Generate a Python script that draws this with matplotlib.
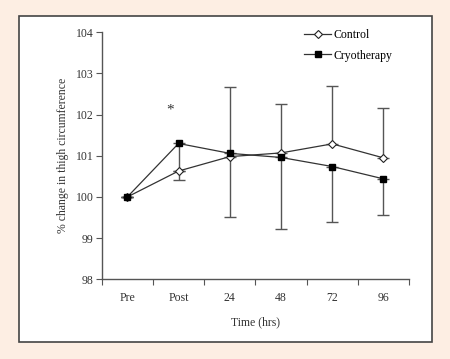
import numpy as np
import matplotlib
matplotlib.use("Agg")
import matplotlib.pyplot as plt
from matplotlib.patches import Rectangle

# datos
categorias = ["Pre", "Post", "24", "48", "72", "96"]
control = [100.0, 100.63, 100.98, 101.07, 101.29, 100.95]
control_err_sup = [0.0, 0.0, 1.68, 1.18, 1.40, 1.20]
crio = [100.0, 101.30, 101.06, 100.96, 100.74, 100.44]
crio_err_inf = [0.0, 0.89, 1.54, 1.73, 1.36, 0.89]

plt.rcParams["font.family"] = ["Liberation Serif", "DejaVu Serif"]

fig = plt.figure(figsize=(4.5, 3.59), dpi=100)
fig.patch.set_facecolor("#fdeee3")

# recuadro blanco con borde (debajo de los ejes)
fig.patches.append(Rectangle((0.042, 0.047), 0.918, 0.908, transform=fig.transFigure,
                             facecolor="white", edgecolor="#444444", linewidth=1.2, zorder=-10))

ax = fig.add_axes([0.226, 0.222, 0.683, 0.688])
ax.set_facecolor("none")

x = np.arange(len(categorias))
gris = "#555555"

ax.errorbar(x, control, yerr=[np.zeros(len(x)), control_err_sup], fmt="none",
            ecolor=gris, elinewidth=1.0, capsize=4, capthick=1.0, zorder=2)
ax.errorbar(x, crio, yerr=[crio_err_inf, np.zeros(len(x))], fmt="none",
            ecolor=gris, elinewidth=1.0, capsize=4, capthick=1.0, zorder=2)

ax.plot(x, control, color="#333333", linewidth=0.9, marker="D", markersize=4.5,
        markerfacecolor="white", markeredgecolor="#222222", markeredgewidth=0.8,
        label="Control", zorder=3)
ax.plot(x, crio, color="#333333", linewidth=0.9, marker="s", markersize=5,
        markerfacecolor="black", markeredgecolor="black",
        label="Cryotherapy", zorder=4)

ax.text(0.83, 102.12, "*", fontsize=11, ha="center", va="center", color="#333333")

ax.set_xlim(-0.5, 5.5)
ax.set_ylim(98, 104)
ax.set_yticks(np.arange(98, 105, 1))
ax.set_xticks(np.arange(-0.5, 6, 1))
ax.set_xticklabels([])
ax.set_xticks(x, minor=True)
ax.set_xticklabels(categorias, minor=True)
ax.tick_params(axis="x", which="minor", length=0, pad=9, labelsize=8.5, colors="#333333")
ax.tick_params(axis="x", which="major", direction="out", length=4, color=gris)
ax.tick_params(axis="y", direction="out", length=4, color=gris, labelsize=8.5,
               labelcolor="#333333", pad=2)

for lado in ["top", "right"]:
    ax.spines[lado].set_visible(False)
for lado in ["left", "bottom"]:
    ax.spines[lado].set_color(gris)
    ax.spines[lado].set_linewidth(1.0)

ax.set_xlabel("Time (hrs)", fontsize=8.5, color="#333333", labelpad=9)
ax.set_ylabel("% change in thigh circumference", fontsize=8.5, color="#333333", labelpad=5)

ax.legend(loc="upper left", bbox_to_anchor=(0.665, 0.933), bbox_transform=fig.transFigure,
          frameon=False, fontsize=8.5, handlelength=2.3, handletextpad=0.2,
          labelspacing=0.75, borderaxespad=0)

fig.savefig("out.png", dpi=100, facecolor=fig.get_facecolor())
